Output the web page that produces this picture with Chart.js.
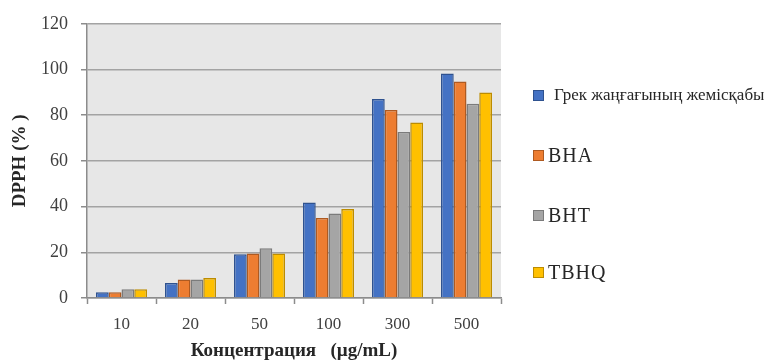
<!DOCTYPE html>
<html>
<head>
<meta charset="utf-8">
<script src="https://cdn.jsdelivr.net/npm/chart.js@4"></script>
<style>
  body { margin: 0; background: #fff; }
  .wrap { position: relative; width: 774px; height: 363px; }
  .legend { position: absolute; left: 533px; top: 0; font-family: "Liberation Serif", serif; color: #262626; }
  .legend .item { position: absolute; left: 0; display: flex; align-items: center; white-space: nowrap; }
  .legend .box { width: 9px; height: 9px; border: 1px solid; margin-right: 4px; }
</style>
</head>
<body>
<div class="wrap">
  <canvas id="myChart" width="774" height="363"></canvas>
  <div class="legend" id="legend"></div>
</div>
<script>
const categories = ['10', '20', '50', '100', '300', '500'];
const seriesNames = ['Грек жаңғағының жемісқабы', 'BHA', 'BHT', 'TBHQ'];
const walnutHusk = [2.5, 6.6, 19.1, 41.8, 87.1, 98.2];
const bha = [2.5, 8.1, 19.5, 35.0, 82.3, 94.7];
const bht = [3.8, 8.1, 21.8, 37.0, 72.6, 85.0];
const tbhq = [3.8, 8.8, 19.5, 39.0, 76.8, 89.9];
const yTicks = [0, 20, 40, 60, 80, 100, 120];

const fills = ['#4472C4', '#ED7D31', '#A5A5A5', '#FFC000'];
const borders = ['#2F528F', '#AE5A21', '#7B7B7B', '#BC8C00'];

const plotBg = {
  id: 'plotBg',
  beforeDraw(chart) {
    const { ctx, chartArea: a } = chart;
    ctx.save();
    ctx.fillStyle = '#e7e7e7';
    ctx.fillRect(a.left, a.top, a.right - a.left, a.bottom - a.top);
    ctx.restore();
  }
};

const ctx = document.getElementById('myChart').getContext('2d');

new Chart(ctx, {
  type: 'bar',
  data: {
    labels: categories,
    datasets: [walnutHusk, bha, bht, tbhq].map((d, i) => ({
      label: seriesNames[i],
      data: d,
      backgroundColor: fills[i],
      borderColor: borders[i],
      borderWidth: 1.5,
      borderSkipped: 'bottom',
      categoryPercentage: 0.74,
      barPercentage: 1.0
    }))
  },
  options: {
    responsive: false,
    animation: false,
    devicePixelRatio: 1,
    layout: { padding: { top: 21, right: 273, left: 0, bottom: 0 } },
    plugins: {
      legend: { display: false },
      tooltip: { enabled: false }
    },
    scales: {
      x: {
        afterFit(scale) { scale.height = 65; },
        grid: {
          offset: true,
          drawOnChartArea: false,
          drawTicks: true,
          tickLength: 6,
          tickColor: '#8c8c8c',
          tickWidth: 1.5
        },
        border: { display: true, color: '#8c8c8c', width: 1.5 },
        ticks: {
          padding: 10,
          color: '#404040',
          font: { family: 'Liberation Serif', size: 17 }
        },
        title: {
          display: true,
          text: 'Концентрация   (µg/mL)',
          color: '#262626',
          padding: { top: 0, bottom: 1 },
          font: { family: 'Liberation Serif', size: 19, weight: 'bold' }
        }
      },
      y: {
        min: 0,
        max: 120,
        afterFit(scale) { scale.width = 87; },
        afterBuildTicks(scale) { scale.ticks = yTicks.map(v => ({ value: v })); },
        grid: {
          color: '#a3a3a3',
          lineWidth: 1.5,
          drawTicks: true,
          tickLength: 6,
          tickColor: '#8c8c8c'
        },
        border: { display: true, color: '#8c8c8c', width: 1.5 },
        ticks: {
          padding: 13,
          color: '#404040',
          font: { family: 'Liberation Serif', size: 18 }
        },
        title: {
          display: true,
          text: 'DPPH (% )',
          color: '#262626',
          padding: { top: 9, bottom: 0 },
          font: { family: 'Liberation Serif', size: 19, weight: 'bold' }
        }
      }
    }
  },
  plugins: [plotBg]
});

// legend on the right, built from the series names
const legendTops = [95, 155, 215, 272];
const legendSizes = [17, 20, 20, 20];
const legendEl = document.getElementById('legend');
seriesNames.forEach((name, i) => {
  const item = document.createElement('div');
  item.className = 'item';
  item.style.top = (legendTops[i] - 12) + 'px';
  item.style.height = '24px';
  item.style.fontSize = legendSizes[i] + 'px';
  if (i > 0) item.style.letterSpacing = '1px';
  item.innerHTML = `<div class="box" style="background:${fills[i]};border-color:${borders[i]};${i === 0 ? 'margin-right:10px;' : ''}"></div><span>${name}</span>`;
  legendEl.appendChild(item);
});
</script>
</body>
</html>
